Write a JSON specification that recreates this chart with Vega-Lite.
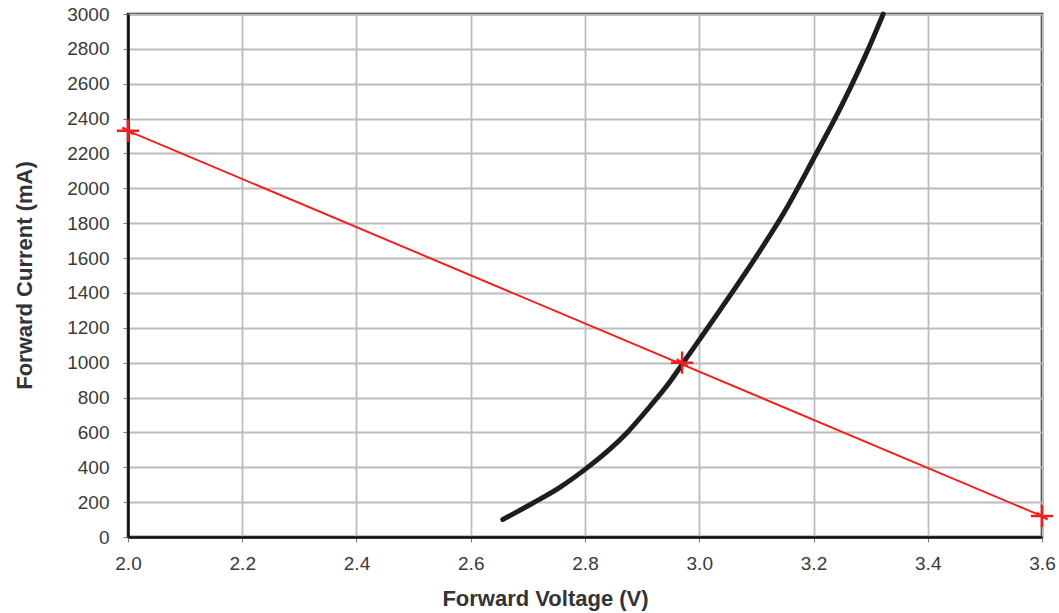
{
  "$schema": "https://vega.github.io/schema/vega-lite/v6.json",
  "autosize": {"type": "none"},
  "width": 914,
  "height": 523,
  "padding": {"left": 128, "top": 14, "right": 17, "bottom": 76},
  "background": "white",
  "config": {
    "view": {"stroke": "#111", "strokeWidth": 2.5},
    "axis": {
      "labelFont": "Liberation Sans",
      "labelFontSize": 19,
      "labelColor": "#3a3a3a",
      "labelFlush": false,
      "labelOverlap": false,
      "titleFont": "Liberation Sans",
      "titleFontWeight": "bold",
      "titleFontSize": 22,
      "titleColor": "#333",
      "gridColor": "#bcbcbc",
      "gridWidth": 1.8,
      "gridOpacity": 1,
      "domainColor": "#111",
      "domainWidth": 2.5,
      "tickColor": "#777",
      "tickSize": 5
    }
  },
  "datasets": {
    "curve": [
      {"v": 2.656, "i": 100},
      {"v": 2.709, "i": 195},
      {"v": 2.756, "i": 285},
      {"v": 2.803, "i": 395},
      {"v": 2.844, "i": 505},
      {"v": 2.874, "i": 600},
      {"v": 2.914, "i": 750},
      {"v": 2.944, "i": 870},
      {"v": 2.97, "i": 990},
      {"v": 3.001, "i": 1135},
      {"v": 3.036, "i": 1300},
      {"v": 3.1, "i": 1610},
      {"v": 3.15, "i": 1870},
      {"v": 3.2, "i": 2170},
      {"v": 3.25, "i": 2480},
      {"v": 3.3, "i": 2830},
      {"v": 3.322, "i": 3000}
    ],
    "load": [
      {"v": 2.0, "i": 2330},
      {"v": 3.6, "i": 120}
    ],
    "marks": [
      {"v": 2.0, "i": 2330},
      {"v": 2.97, "i": 1000},
      {"v": 3.6, "i": 120}
    ]
  },
  "encoding": {
    "x": {
      "field": "v", "type": "quantitative",
      "scale": {"domain": [2.0, 3.6], "nice": false, "zero": false},
      "axis": {
        "values": [2.0, 2.2, 2.4, 2.6, 2.8, 3.0, 3.2, 3.4, 3.6],
        "format": ".1f",
        "labelPadding": 12,
        "title": "Forward Voltage (V)",
        "titleX": 417,
        "titleY": 61,
        "titleBaseline": "middle",
        "titleAlign": "center"
      }
    },
    "y": {
      "field": "i", "type": "quantitative",
      "scale": {"domain": [0, 3000], "nice": false},
      "axis": {
        "values": [0, 200, 400, 600, 800, 1000, 1200, 1400, 1600, 1800, 2000, 2200, 2400, 2600, 2800, 3000],
        "format": "d",
        "labelPadding": 14,
        "title": "Forward Current (mA)",
        "titleX": -104,
        "titleY": 261,
        "titleAngle": -90,
        "titleBaseline": "middle",
        "titleAlign": "center"
      }
    }
  },
  "layer": [
    {
      "data": {"name": "load"},
      "mark": {"type": "line", "color": "#f02020", "strokeWidth": 2},
      "encoding": {}
    },
    {
      "data": {"name": "curve"},
      "mark": {"type": "line", "color": "#1e1e1e", "strokeWidth": 5, "interpolate": "monotone", "strokeCap": "round"},
      "encoding": {}
    },
    {
      "data": {"name": "marks"},
      "mark": {"type": "point", "shape": "M-1,0L1,0M0,-1L0,1M-0.5,-0.3L0.5,0.3", "size": 500, "stroke": "#f02020", "strokeWidth": 2.5, "filled": false, "opacity": 1, "clip": false},
      "encoding": {}
    }
  ]
}
